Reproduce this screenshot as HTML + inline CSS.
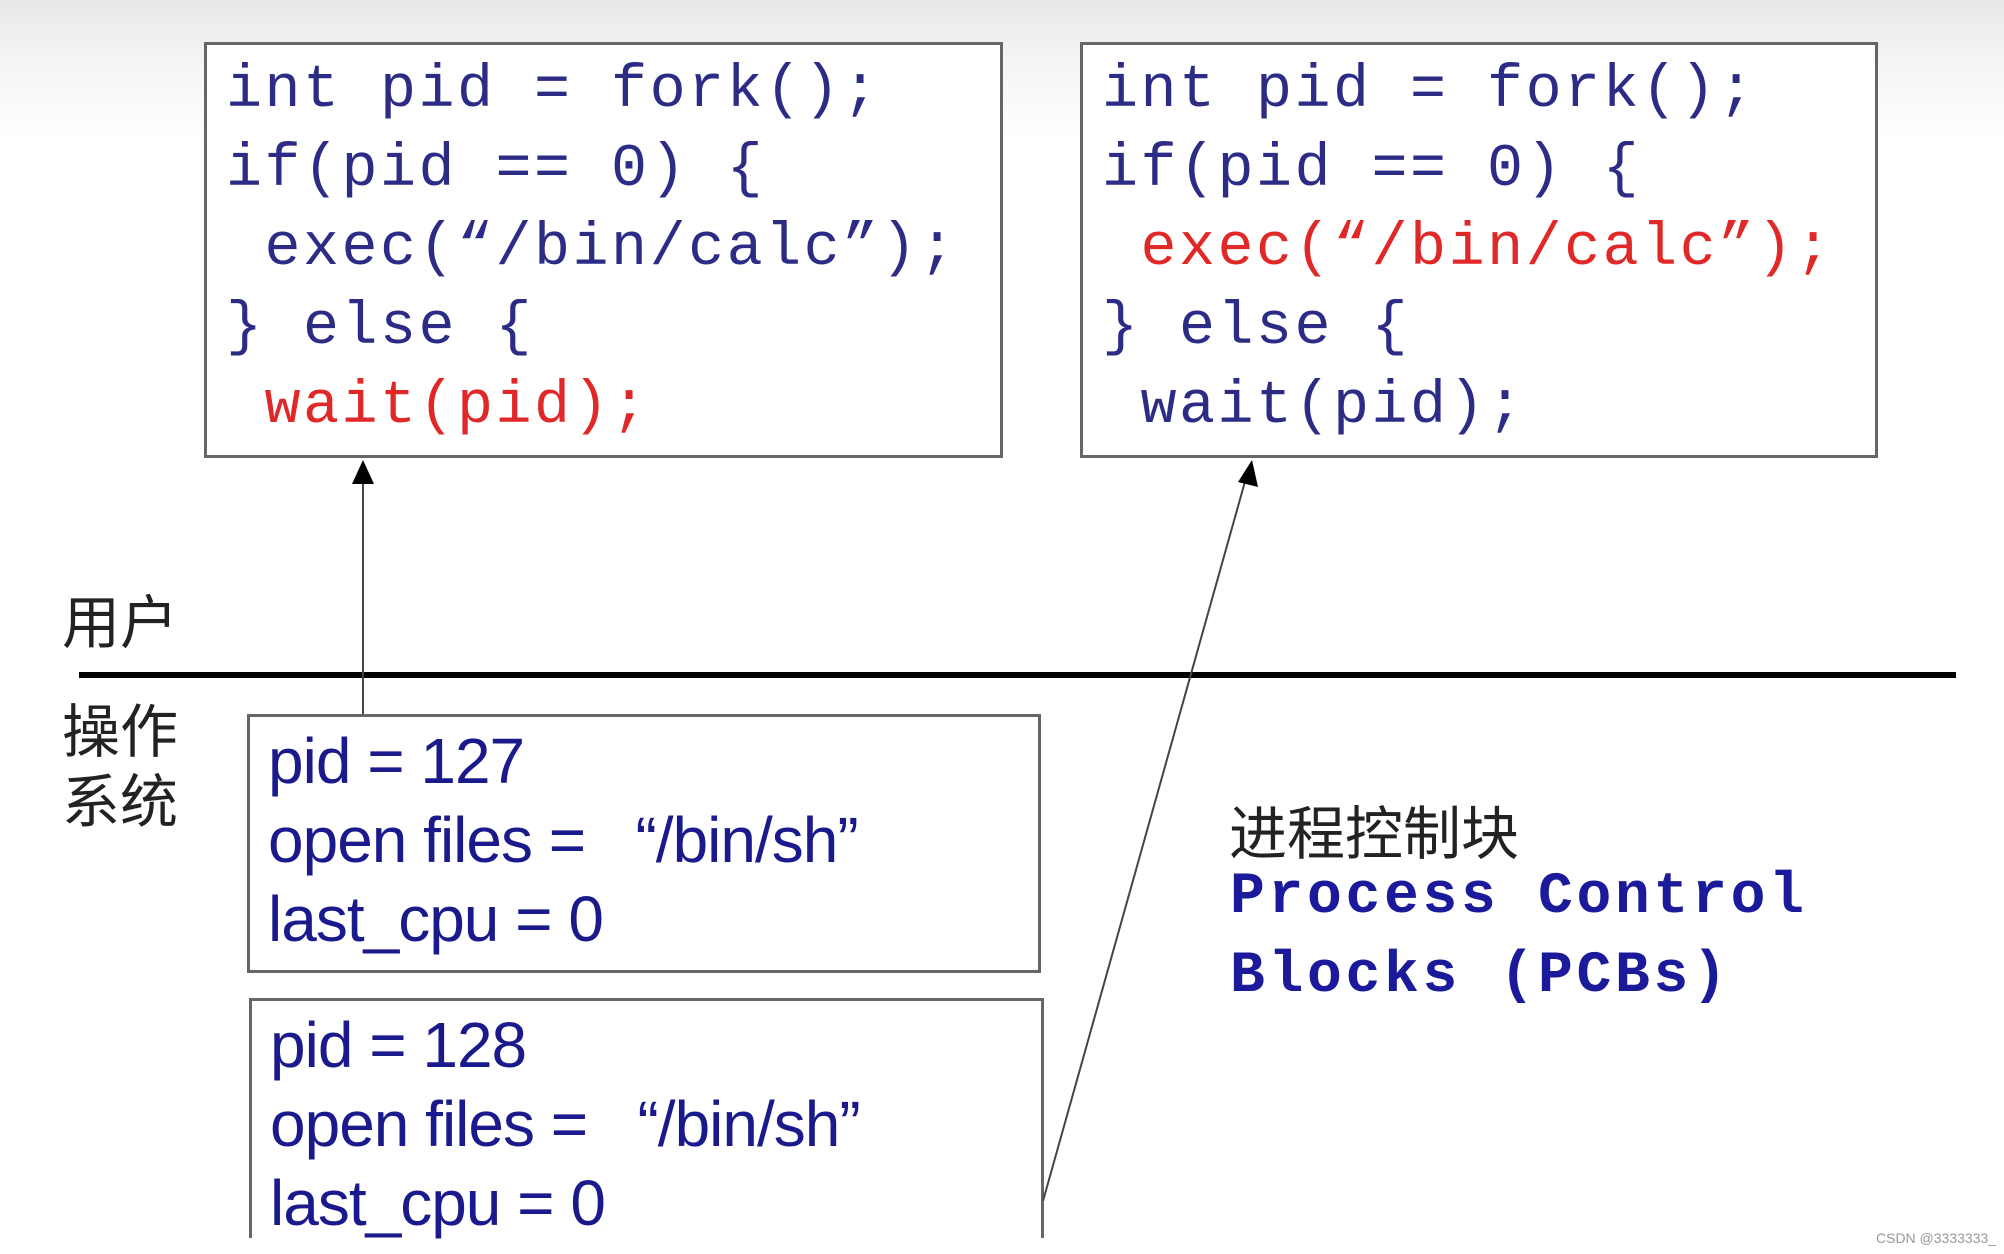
<!DOCTYPE html>
<html><head><meta charset="utf-8"><style>
html,body{margin:0;padding:0}
body{width:2004px;height:1254px;position:relative;overflow:hidden;background:linear-gradient(#e8e8e8 0px,#f6f6f6 70px,#fff 140px);font-family:"Liberation Sans","Noto Sans CJK SC",sans-serif}
.box{position:absolute;border:3px solid #666;box-sizing:border-box;background:#fff}
.code{position:absolute;font-family:"Liberation Mono",monospace;font-size:60px;letter-spacing:2.5px;color:#2c2c86;white-space:pre;line-height:79px}
.red{color:#e02828}
.pcb{position:absolute;font-family:"Liberation Sans",sans-serif;font-size:64px;color:#1a1a8c;line-height:79px;white-space:pre;letter-spacing:-1px}
.cn{position:absolute;font-family:"Noto Sans CJK SC",sans-serif;color:#222;font-size:58px;line-height:70px}
.pc{position:absolute;font-family:"Liberation Mono",monospace;font-weight:bold;font-size:58px;letter-spacing:3.7px;color:#1a1a9a;line-height:79px;white-space:pre}
</style></head><body>
<div class="box" style="left:204px;top:42px;width:799px;height:416px"></div>
<div class="box" style="left:1080px;top:42px;width:798px;height:416px"></div>
<div class="code" style="left:226px;top:52px">int pid = fork();
if(pid == 0) {
 exec(“/bin/calc”);
} else {
 <span class="red">wait(pid);</span></div>
<div class="code" style="left:1102px;top:52px">int pid = fork();
if(pid == 0) {
 <span class="red">exec(“/bin/calc”);</span>
} else {
 wait(pid);</div>
<div class="box" style="left:247px;top:714px;width:794px;height:259px"></div>
<div style="position:absolute;left:249px;top:998px;width:795px;height:240px;border:3px solid #666;border-bottom:none;box-sizing:border-box;background:#fff"></div>
<div class="pcb" style="left:268px;top:722px">pid = 127
open files =   “/bin/sh”
last_cpu = 0</div>
<div class="pcb" style="left:270px;top:1006px">pid = 128
open files =   “/bin/sh”
last_cpu = 0</div>
<svg style="position:absolute;left:0;top:0" width="2004" height="1254">
<line x1="79" y1="675" x2="1956" y2="675" stroke="#000" stroke-width="6"/>
<line x1="363" y1="714" x2="363" y2="480" stroke="#444" stroke-width="2"/>
<polygon points="363,460 352,484 374,484" fill="#000"/>
<line x1="1043" y1="1201" x2="1246" y2="478" stroke="#444" stroke-width="2"/>
<polygon points="1252,460 1238,482 1258,487" fill="#000"/>
</svg>
<div class="cn" style="left:62px;top:583px">用户</div>
<div class="cn" style="left:62px;top:692px">操作<br>系统</div>
<div class="cn" style="left:1229px;top:794px">进程控制块</div>
<div class="pc" style="left:1230px;top:858px">Process Control
Blocks (PCBs)</div>
<div style="position:absolute;left:1876px;top:1230px;font-size:14px;color:#999">CSDN @3333333_</div>
</body></html>
